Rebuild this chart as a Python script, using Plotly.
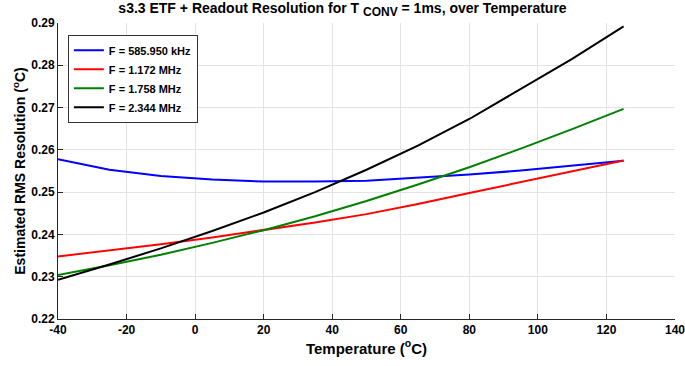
import plotly.graph_objects as go

temps = [-40, -25, -10, 5, 20, 35, 50, 65, 80, 95, 110, 125]
f_586k = [0.2578, 0.2553, 0.2538, 0.2530, 0.2525, 0.2525, 0.2527, 0.2534, 0.2542, 0.2551, 0.2562, 0.2574]
f_1172k = [0.2348, 0.2362, 0.2377, 0.2393, 0.2410, 0.2428, 0.2448, 0.2472, 0.2498, 0.2524, 0.2550, 0.2575]
f_1758k = [0.2304, 0.2327, 0.2352, 0.2380, 0.2410, 0.2443, 0.2479, 0.2518, 0.2559, 0.2603, 0.2649, 0.2697]
f_2344k = [0.2293, 0.2329, 0.2367, 0.2408, 0.2452, 0.2500, 0.2553, 0.2610, 0.2673, 0.2743, 0.2815, 0.2892]
names = ["F = 585.950 kHz", "F = 1.172 MHz", "F = 1.758 MHz", "F = 2.344 MHz"]
colors = ["#0000ff", "#ff0000", "#008000", "#000000"]
series = [f_586k, f_1172k, f_1758k, f_2344k]
x_ticks = [-40, -20, 0, 20, 40, 60, 80, 100, 120, 140]
y_ticks = [0.22, 0.23, 0.24, 0.25, 0.26, 0.27, 0.28, 0.29]

fig = go.Figure()
for n, c, s in zip(names, colors, series):
    fig.add_trace(go.Scatter(x=temps, y=s, mode="lines", name=f"<b>{n}</b>",
                             line=dict(color=c, width=2)))

font = "Liberation Sans, Arial, sans-serif"
fig.update_layout(
    width=685, height=366,
    margin=dict(l=58, r=10, t=23, b=47),
    paper_bgcolor="white", plot_bgcolor="white",
    font=dict(family=font, size=12, color="black"),
    title=dict(text="<b>s3.3 ETF + Readout Resolution for T <sub><span style=\"font-size:12px\">CONV</span></sub> = 1ms, over Temperature</b>",
               x=0.5, xanchor="center", y=0.99, yanchor="top",
               font=dict(size=14, family=font, color="black")),
    showlegend=True,
    legend=dict(x=0.016, y=0.96, xanchor="left", yanchor="top",
                bgcolor="white", bordercolor="#333333", borderwidth=1,
                font=dict(size=11, family=font, color="black"),
                tracegroupgap=0, itemwidth=30),
    xaxis=dict(range=[-40, 140], tickvals=x_ticks,
               ticktext=[f"<b>{v}</b>" for v in x_ticks],
               ticklabeloverflow="allow", automargin=False,
               tickfont=dict(size=12),
               showgrid=True, gridcolor="#e3e3e3", gridwidth=1,
               showline=True, linecolor="#262626", linewidth=1,
               ticks="inside", ticklen=5, tickcolor="#262626",
               zeroline=False,
               title=dict(text="<b>Temperature (<sup>o</sup>C)</b>",
                          font=dict(size=15, family=font), standoff=4)),
    yaxis=dict(range=[0.22, 0.29], tickvals=y_ticks,
               ticktext=[f"<b>{v:.2f}</b>" for v in y_ticks],
               ticklabeloverflow="allow", automargin=False,
               tickfont=dict(size=12),
               showgrid=True, gridcolor="#e3e3e3", gridwidth=1,
               showline=True, linecolor="#262626", linewidth=1,
               ticks="inside", ticklen=5, tickcolor="#262626",
               zeroline=False,
               title=dict(text="<b>Estimated RMS Resolution (<sup>o</sup>C)</b>",
                          font=dict(size=14, family=font), standoff=2)),
)
fig.write_html("out.html")
